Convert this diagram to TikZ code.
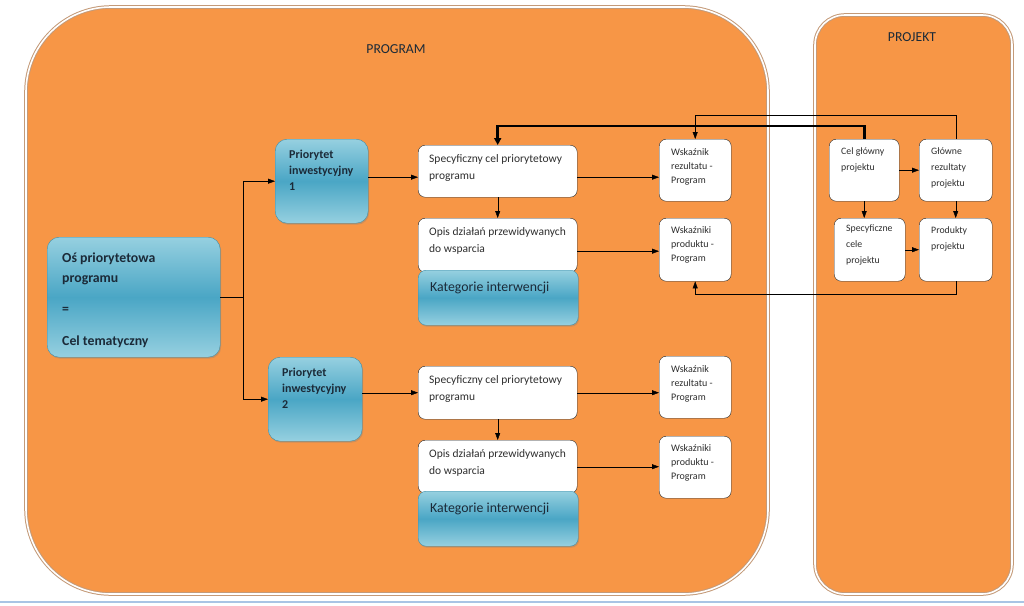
\documentclass[tikz,border=0pt]{standalone}
\usepackage{fontspec}
\setmainfont{Carlito}
\usepackage{tikz}
\usetikzlibrary{arrows.meta,positioning,calc,shadows}
\definecolor{panelfill}{HTML}{F79646}
\definecolor{paneledge}{HTML}{C49A78}
\definecolor{bluelt}{HTML}{96D0E0}
\definecolor{bluedk}{HTML}{4AA6C5}
\definecolor{blueedge}{HTML}{3F8EA8}
\definecolor{navytext}{HTML}{1B2A38}
\definecolor{greytext}{HTML}{2E2E2E}
\definecolor{chrome}{HTML}{A9C4E4}

% text block inside a box: [top pad]{width}{height}{text}
\newcommand{\boxtext}[4][8pt]{\parbox[c][#3][t]{#2}{\raggedright\vspace*{#1}#4}}

\begin{document}
\begin{tikzpicture}[x=1pt, y=-1pt,
  wbox/.style={draw=black!85, rounded corners=7pt, fill=white, inner xsep=12pt, inner ysep=0pt, anchor=north west, text=greytext},
  bbox/.style={draw=blueedge, rounded corners=12pt, top color=bluelt, bottom color=bluelt, middle color=bluedk, inner xsep=14pt, inner ysep=0pt, anchor=north west, text=navytext, drop shadow={shadow xshift=1pt, shadow yshift=-1.5pt, opacity=0.35}},
  spectxt/.style={font=\fontsize{11.5}{17}\selectfont, inner xsep=11pt},
  smalltxt/.style={font=\fontsize{10}{14}\selectfont},
  projtxt/.style={font=\fontsize{9.8}{16}\selectfont},
  titletxt/.style={font=\fontsize{13.7}{15}\selectfont, text=navytext},
  arr/.style={-{Triangle[length=7pt, width=5pt]}, black},
  thickarr/.style={-{Triangle[length=7pt, width=7pt]}, black, line width=2.6pt}
]
  \useasboundingbox (0,0) rectangle (1024,605);

  % panels
  \draw[fill=panelfill, draw=paneledge, line width=3.6pt] (26,300) [rounded corners=85pt] -- (26,7) -- (768,7) -- (768,594) -- (26,594) -- cycle;
  \draw[draw=white, line width=1.6pt] (26,300) [rounded corners=85pt] -- (26,7) -- (768,7) -- (768,594) -- (26,594) -- cycle;
  \draw[fill=panelfill, draw=paneledge, line width=3.6pt, rounded corners=30pt] (815,15) rectangle (1012,594);
  \draw[draw=white, line width=1.6pt, rounded corners=30pt] (815,15) rectangle (1012,594);
  \draw[chrome, line width=1.5pt] (0,602) -- (1024,602);

  \node[titletxt] (prog) at (396,49) {PROGRAM};
  \node[titletxt] (proj) at (912,37) {PROJEKT};

  % program side
  \node[bbox, inner xsep=15pt, font=\fontsize{13.8}{20}\selectfont\bfseries] (os) at (47,237)
    {\boxtext[16pt]{143pt}{120pt}{Oś priorytetowa\\programu\\[11pt]=\\[12pt]Cel tematyczny}};

  \node[bbox, font=\fontsize{12}{16}\selectfont\bfseries] (p1) at (275,139)
    {\boxtext[11pt]{65pt}{84pt}{Priorytet\\inwestycyjny\\1}};
  \node[bbox, font=\fontsize{12}{16}\selectfont\bfseries] (p2) at (268,357)
    {\boxtext[11pt]{66pt}{84pt}{Priorytet\\inwestycyjny\\2}};

  \node[wbox, spectxt] (spec1) at (418,145) {\boxtext[9pt]{137pt}{52pt}{Specyficzny cel priorytetowy\\programu}};
  \node[wbox, spectxt] (opis1) at (418,218) {\boxtext[9pt]{137pt}{54pt}{Opis działań przewidywanych\\do wsparcia}};
  \node[bbox, inner xsep=12pt, rounded corners=8pt, font=\fontsize{13.8}{15}\selectfont] (kat1) at (418,270) {\boxtext[12pt]{136pt}{55pt}{Kategorie interwencji}};
  \node[wbox, smalltxt] (wr1) at (659,139) {\boxtext[9.5pt]{48pt}{62pt}{Wskaźnik\\rezultatu -\\Program}};
  \node[wbox, smalltxt] (wp1) at (659,218) {\boxtext[8.5pt]{48pt}{63pt}{Wskaźniki\\produktu -\\Program}};

  \node[wbox, spectxt] (spec2) at (418,366) {\boxtext[9pt]{137pt}{53pt}{Specyficzny cel priorytetowy\\programu}};
  \node[wbox, spectxt] (opis2) at (418,440) {\boxtext[9pt]{137pt}{53pt}{Opis działań przewidywanych\\do wsparcia}};
  \node[bbox, inner xsep=12pt, rounded corners=8pt, font=\fontsize{13.8}{15}\selectfont] (kat2) at (418,491) {\boxtext[12pt]{136pt}{55pt}{Kategorie interwencji}};
  \node[wbox, smalltxt] (wr2) at (659,356) {\boxtext[9.5pt]{48pt}{62pt}{Wskaźnik\\rezultatu -\\Program}};
  \node[wbox, smalltxt] (wp2) at (659,436) {\boxtext[8.5pt]{48pt}{62pt}{Wskaźniki\\produktu -\\Program}};

  % project side
  \node[wbox, projtxt] (cg) at (829,139) {\boxtext[8pt]{46pt}{62pt}{Cel główny\\projektu}};
  \node[wbox, projtxt] (gr) at (919,139) {\boxtext[8pt]{49pt}{62pt}{Główne\\rezultaty\\projektu}};
  \node[wbox, projtxt] (sc) at (834,218) {\boxtext[7pt]{47pt}{63pt}{Specyficzne\\cele\\projektu}};
  \node[wbox, projtxt] (pp) at (919,218) {\boxtext[8pt]{49pt}{63pt}{Produkty\\projektu}};

  % connectors
  \draw (os.east) -- ++(23,0) coordinate (split);
  \draw[arr] (split) |- (p1.west);
  \draw[arr] (split) |- (p2.west);

  \draw[arr] ([yshift=-6pt]spec1.west -| p1.east) -- ([yshift=-6pt]spec1.west);
  \draw[arr] (spec1.south) -- (opis1.north);
  \draw[arr] ([yshift=-6pt]spec1.east) -- ([yshift=-6pt]spec1.east -| wr1.west);
  \draw[arr] ([yshift=-6pt]opis1.east) -- ([yshift=-6pt]opis1.east -| wp1.west);

  \draw[arr] (spec2.west -| p2.east) -- (spec2.west);
  \draw[arr] (spec2.south) -- (opis2.north);
  \draw[arr] (spec2.east) -- (spec2.east -| wr2.west);
  \draw[arr] (opis2.east) -- (opis2.east -| wp2.west);

  \draw[arr] (cg.east) -- (cg.east -| gr.west);
  \draw[arr] (cg.south) -- (cg.south |- sc.north);
  \draw[arr] (gr.south) -- (gr.south |- pp.north);
  \draw[arr] (sc.east) -- (sc.east -| pp.west);

  \draw[thickarr] (cg.north) -- ++(0,-13) -| (spec1.north);
  \draw[arr] (gr.north) -- ++(0,-24) -| (wr1.north);
  \draw[arr] (pp.south) -- ++(0,13) -| (wp1.south);
\end{tikzpicture}
\end{document}
